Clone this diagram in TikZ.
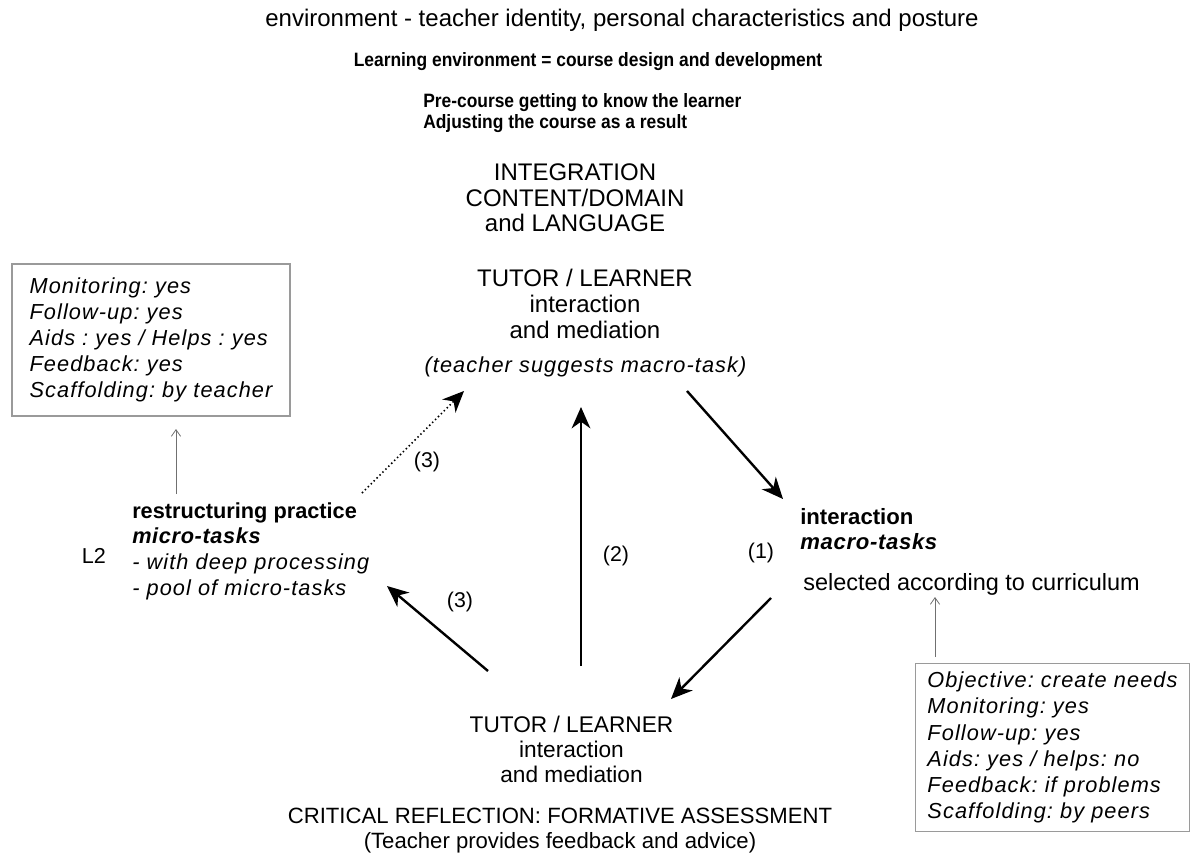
\documentclass[tikz,border=0pt]{standalone}
\usepackage{fontspec}
\setmainfont{Liberation Sans}[ItalicFeatures={LetterSpace=5}, BoldItalicFeatures={LetterSpace=3}]
\newfontfamily\narrowfont[FakeStretch=0.90]{Liberation Sans}
\usetikzlibrary{arrows.meta}
\definecolor{boxgray}{HTML}{9A9A9A}
\definecolor{thingray}{HTML}{707070}
\begin{document}
\frenchspacing
\begin{tikzpicture}[x=0.75pt,y=-0.75pt,
  txt/.style={inner sep=0pt, font=\fontsize{18}{19.5}\selectfont},
  hdr/.style={inner sep=0pt, font=\narrowfont\bfseries\fontsize{14.5}{15.75}\selectfont},
  infobox/.style={draw=boxgray, line width=0.9pt, inner sep=0pt, align=left,
     font=\itshape\fontsize{16.3}{19.4}\selectfont},
  bigarrow/.style={line width=1.8pt, -{Stealth[length=16pt,width=14pt,inset=5pt]}},
  dotarrow/.style={line width=1.1pt, dotted, -{Stealth[length=16pt,width=14pt,inset=5pt]}},
  thinarrow/.style={draw=thingray, line width=0.6pt, -{Straight Barb[length=5pt,width=7pt]}},
  lbl/.style={inner sep=0pt, font=\fontsize{16}{18}\selectfont}
]
\useasboundingbox (0,0) rectangle (1192,856);

% header texts
\node[txt] (env) at (622,20) {environment - teacher identity, personal characteristics and posture};
\node[hdr] (learn) at (588,62) {Learning environment = course design and development};
\node[hdr, align=left, anchor=west] (pre) at (423,113) {Pre-course getting to know the learner\\Adjusting the course as a result};

% top block
\node[txt, align=center, font=\fontsize{18}{19.3}\selectfont] (integ) at (575,198) {INTEGRATION\\CONTENT/DOMAIN\\and LANGUAGE};
\node[txt, align=center] (tutortop) at (585,304) {TUTOR / LEARNER\\interaction\\and mediation};
\node[txt, font=\itshape\fontsize{16.3}{19}\selectfont] (suggest) at (585.5,367) {(teacher suggests macro-task)};

% left box
\node[infobox, minimum width=208.5pt, minimum height=114pt] (lbox) at (151,340)
 {Monitoring: yes\\Follow-up: yes\\Aids : yes / Helps : yes\\Feedback: yes\\Scaffolding: by teacher};

% left block
\node[txt, align=left, anchor=west, font=\fontsize{16.3}{19.2}\selectfont] (rest) at (132,551)
 {\textbf{restructuring practice}\\\textbf{\itshape micro-tasks}\\\textit{- with deep processing}\\\textit{- pool of micro-tasks}};
\node[txt, font=\fontsize{16.2}{19}\selectfont] (ltwo) at (94,556) {L2};

% right block
\node[txt, align=left, anchor=west, font=\fontsize{16.6}{19.2}\selectfont] (inter) at (800,529)
 {\textbf{interaction}\\\textbf{\itshape macro-tasks}};
\node[txt, anchor=west, font=\fontsize{17.6}{19}\selectfont] (select) at (803,584) {selected according to curriculum};

% right box
\node[infobox, minimum width=205.5pt, minimum height=126pt, font=\itshape\fontsize{16.3}{19.6}\selectfont] (rbox) at (1052.5,747.5)
 {Objective: create needs\\Monitoring: yes\\Follow-up: yes\\Aids: yes / helps: no\\Feedback: if problems\\Scaffolding: by peers};

% bottom block
\node[txt, align=center, font=\fontsize{17}{18.75}\selectfont] (tutorbot) at (571.5,749) {TUTOR / LEARNER\\interaction\\and mediation};
\node[txt, align=center, font=\fontsize{16.6}{18.75}\selectfont] (crit) at (560,831) {CRITICAL REFLECTION: FORMATIVE ASSESSMENT\\(Teacher provides feedback and advice)};

% arrow end points
\coordinate (a1s) at (687,391);
\coordinate (a1e) at (783,499);
\coordinate (a2s) at (581,666);
\coordinate (a2e) at (581,407);
\coordinate (a3s) at (771,598);
\coordinate (a3e) at (671,699);
\coordinate (a4s) at (488,671);
\coordinate (a4e) at (387,586);
\coordinate (a5s) at (362,493);
\coordinate (a5e) at (464,391);
\coordinate (t1s) at (176,494);
\coordinate (t1e) at (176,429);
\coordinate (t2s) at (935,657);
\coordinate (t2e) at (935,597);

\draw[bigarrow] (a1s) -- (a1e);
\draw[bigarrow] (a2s) -- (a2e);
\draw[bigarrow] (a3s) -- (a3e);
\draw[bigarrow] (a4s) -- (a4e);
\draw[dotarrow] (a5s) -- (a5e);
\draw[thinarrow] (t1s) -- (t1e);
\draw[thinarrow] (t2s) -- (t2e);

% labels
\node[lbl] (l3a) at (427,462) {(3)};
\node[lbl] (l2) at (616,556) {(2)};
\node[lbl] (l1) at (761,553) {(1)};
\node[lbl] (l3b) at (460,602) {(3)};
\end{tikzpicture}
\end{document}
